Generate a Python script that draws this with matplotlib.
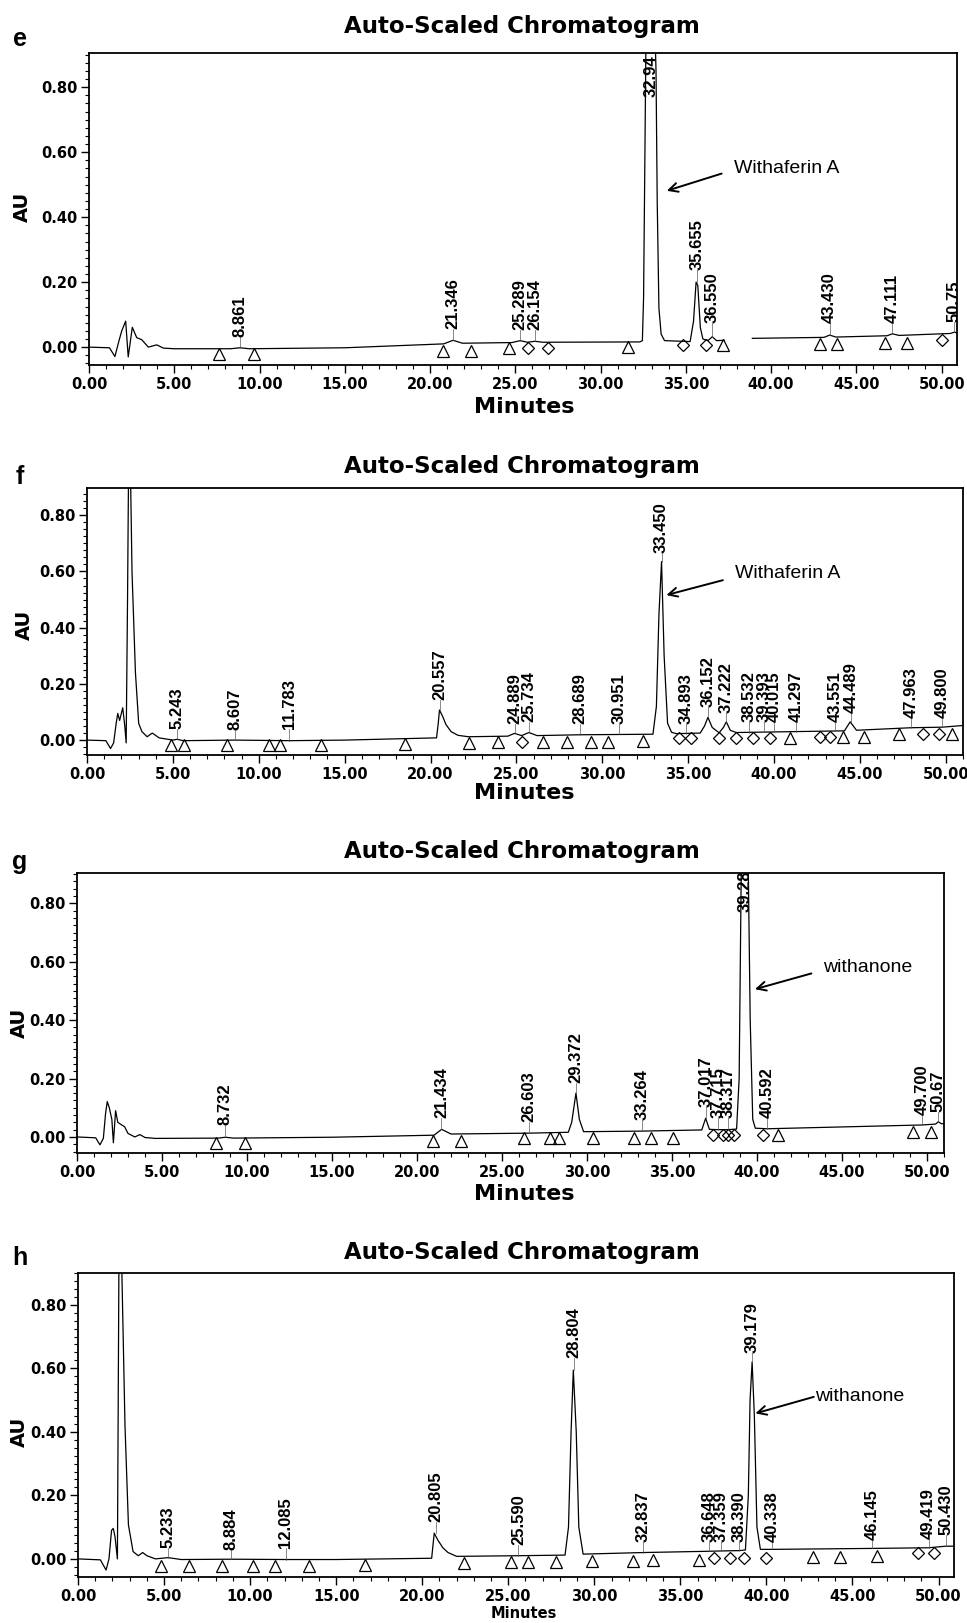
import numpy as np
import matplotlib
matplotlib.use("Agg")
import matplotlib.pyplot as plt
from matplotlib.ticker import MultipleLocator, FormatStrFormatter

nan = np.nan

# ---- panel e ----
e_trace = [(0, 0.0), (1.2, -0.002), (1.52, -0.029), (1.76, 0.02), (1.92, 0.05), (2.15, 0.08), (2.3, -0.03),
           (2.54, 0.061), (2.8, 0.029), (3.09, 0.023), (3.48, 0.0), (3.97, 0.007), (4.36, -0.003), (5.0, -0.005),
           (8.3, -0.005), (8.86, -0.002), (9.4, -0.005), (15.0, -0.002), (20.8, 0.01), (21.35, 0.021),
           (21.9, 0.012), (24.8, 0.014), (25.29, 0.02), (25.7, 0.015), (26.15, 0.018), (26.6, 0.015),
           (32.3, 0.016), (32.45, 0.02), (32.52, 0.15), (32.6, 0.6), (32.66, 0.95), (32.94, 1.3), (33.15, 1.05),
           (33.25, 0.85), (33.32, 0.45), (33.42, 0.12), (33.55, 0.04), (33.75, 0.02), (35.25, 0.017),
           (35.45, 0.08), (35.6, 0.2), (35.7, 0.19), (35.85, 0.06), (36.0, 0.025), (36.3, 0.02), (36.55, 0.032),
           (36.8, 0.02), (37.25, 0.021), (nan, nan), (38.9, 0.027), (43.1, 0.03), (43.43, 0.037), (43.8, 0.031),
           (46.8, 0.035), (47.11, 0.041), (47.5, 0.036), (50.5, 0.042), (50.75, 0.046), (50.95, 0.043)]
e_labels = ['8.861', '21.346', '25.289', '26.154', '32.94', '35.655', '36.550', '43.430', '47.111', '50.75']
e_apex = [-0.002, 0.021, 0.02, 0.018, 0.77, 0.2, 0.032, 0.037, 0.041, 0.046]
e_label_au = [0.032, 0.057, 0.052, 0.052, 0.77, 0.237, 0.073, 0.073, 0.073, 0.078]
e_tri_t = [7.62, 9.68, 20.74, 22.39, 24.65, 31.63, 37.2, 42.87, 43.89, 46.69, 47.96]
e_tri_au = [-0.022, -0.022, -0.011, -0.011, -0.004, 0.001, 0.006, 0.011, 0.011, 0.013, 0.013]
e_dia_t = [25.77, 26.94, 34.82, 36.17, 50.01]
e_dia_au = [-0.004, -0.004, 0.006, 0.006, 0.022]

# ---- panel f ----
f_trace = [(0, 0.0), (1.1, -0.002), (1.37, -0.03), (1.55, -0.01), (1.7, 0.06), (1.79, 0.095), (1.9, 0.07),
           (2.08, 0.115), (2.2, 0.05), (2.28, -0.01), (2.36, 0.5), (2.45, 1.2), (2.52, 1.0), (2.62, 0.6),
           (2.82, 0.24), (3.01, 0.059), (3.2, 0.03), (3.5, 0.012), (3.8, 0.025), (4.2, 0.008), (5.0, 0.0),
           (5.24, 0.003), (5.6, -0.002), (8.6, 0.0), (11.8, -0.002), (15.0, 0.0), (20.35, 0.008), (20.45, 0.06),
           (20.52, 0.107), (20.7, 0.085), (20.9, 0.055), (21.2, 0.03), (21.6, 0.017), (22.2, 0.012),
           (24.5, 0.014), (24.89, 0.024), (25.3, 0.016), (25.73, 0.027), (26.2, 0.016), (28.69, 0.019),
           (30.95, 0.02), (32.95, 0.021), (33.15, 0.12), (33.3, 0.45), (33.45, 0.635), (33.6, 0.3), (33.8, 0.06),
           (34.03, 0.028), (34.3, 0.023), (35.7, 0.025), (35.95, 0.05), (36.15, 0.081), (36.4, 0.045),
           (36.8, 0.026), (37.05, 0.045), (37.22, 0.065), (37.45, 0.035), (37.8, 0.027), (44.1, 0.033),
           (44.43, 0.065), (44.8, 0.035), (47.96, 0.044), (49.8, 0.046), (51.0, 0.052)]
f_labels = ['5.243', '8.607', '11.783', '20.557', '24.889', '25.734', '28.689', '30.951', '33.450', '34.893',
            '36.152', '37.222', '38.532', '39.393', '40.015', '41.297', '43.551', '44.489', '47.963', '49.800']
f_apex = [0.003, 0.0, -0.002, 0.107, 0.024, 0.027, 0.019, 0.02, 0.635, 0.023, 0.081, 0.065, 0.027, 0.028,
          0.029, 0.03, 0.032, 0.065, 0.044, 0.046]
f_label_au = [0.041, 0.036, 0.041, 0.142, 0.059, 0.063, 0.059, 0.059, 0.664, 0.059, 0.119, 0.095, 0.065, 0.065,
              0.065, 0.065, 0.065, 0.097, 0.077, 0.08]
f_tri_t = [4.9, 5.65, 8.15, 10.57, 11.21, 13.62, 18.52, 22.26, 23.94, 26.56, 27.95, 29.33, 30.33, 32.37, 40.94,
           44.0, 45.26, 47.26, 50.36]
f_tri_au = [-0.018, -0.018, -0.018, -0.018, -0.018, -0.017, -0.014, -0.01, -0.006, -0.006, -0.006, -0.005,
            -0.005, -0.004, 0.008, 0.012, 0.012, 0.02, 0.022]
f_dia_t = [25.3, 34.45, 35.18, 36.77, 37.8, 38.77, 39.74, 42.69, 43.23, 48.69, 49.58]
f_dia_au = [-0.006, 0.006, 0.006, 0.007, 0.008, 0.008, 0.009, 0.011, 0.011, 0.02, 0.021]

# ---- panel g ----
g_trace = [(0, 0.0), (1.1, -0.003), (1.35, -0.027), (1.55, -0.005), (1.68, 0.08), (1.78, 0.121), (1.9, 0.1),
           (2.05, 0.06), (2.14, -0.02), (2.27, 0.09), (2.4, 0.05), (2.63, 0.041), (2.8, 0.035), (3.0, 0.012),
           (3.4, 0.0), (3.7, 0.008), (4.0, -0.002), (4.6, -0.005), (8.3, -0.004), (8.73, -0.001), (9.2, -0.004),
           (15.0, -0.001), (21.0, 0.006), (21.45, 0.026), (22.0, 0.01), (26.6, 0.013), (28.9, 0.016),
           (29.1, 0.05), (29.35, 0.15), (29.55, 0.06), (29.8, 0.018), (33.26, 0.02), (36.75, 0.024),
           (36.98, 0.064), (37.2, 0.026), (37.7, 0.025), (38.3, 0.025), (38.8, 0.027), (38.95, 0.2),
           (39.08, 0.95), (39.28, 1.3), (39.48, 0.95), (39.6, 0.4), (39.75, 0.06), (39.9, 0.03), (40.6, 0.028),
           (49.7, 0.041), (50.5, 0.044), (50.67, 0.052), (50.85, 0.045), (51.0, 0.046)]
g_labels = ['8.732', '21.434', '26.603', '29.372', '33.264', '37.017', '37.715', '38.317', '39.28', '40.592',
            '49.700', '50.67']
g_apex = [-0.001, 0.026, 0.013, 0.15, 0.02, 0.064, 0.025, 0.025, 0.77, 0.028, 0.041, 0.052]
g_label_au = [0.041, 0.064, 0.052, 0.184, 0.058, 0.104, 0.064, 0.064, 0.77, 0.064, 0.075, 0.087]
g_tri_t = [8.18, 9.88, 20.96, 22.57, 26.32, 27.82, 28.35, 30.33, 32.76, 33.75, 35.04, 41.25, 49.19, 50.22]
g_tri_au = [-0.022, -0.022, -0.015, -0.013, -0.005, -0.005, -0.005, -0.004, -0.003, -0.003, -0.002, 0.007,
            0.018, 0.018]
g_dia_t = [37.43, 37.98, 38.31, 38.65, 40.34]
g_dia_au = [0.007, 0.007, 0.007, 0.007, 0.007]

# ---- panel h ----
h_trace = [(0, 0.0), (1.3, -0.003), (1.63, -0.035), (1.8, 0.0), (1.95, 0.09), (2.05, 0.096), (2.15, 0.07),
           (2.29, 0.0), (2.38, 0.95), (2.45, 1.3), (2.55, 0.9), (2.73, 0.42), (2.93, 0.107), (3.2, 0.023),
           (3.5, 0.01), (3.76, 0.02), (4.0, 0.01), (4.5, 0.0), (5.23, 0.004), (6.0, -0.002), (8.9, -0.001),
           (12.1, -0.002), (15.0, -0.002), (20.55, 0.002), (20.62, 0.04), (20.7, 0.081), (20.9, 0.06),
           (21.2, 0.035), (21.5, 0.02), (22.0, 0.008), (25.59, 0.01), (28.3, 0.012), (28.5, 0.1), (28.65, 0.4),
           (28.78, 0.594), (28.95, 0.4), (29.1, 0.1), (29.35, 0.015), (32.84, 0.02), (36.65, 0.024),
           (37.36, 0.025), (38.39, 0.026), (38.78, 0.028), (38.95, 0.2), (39.05, 0.5), (39.17, 0.62),
           (39.3, 0.45), (39.45, 0.1), (39.65, 0.03), (40.34, 0.03), (46.15, 0.033), (49.42, 0.035),
           (50.43, 0.04), (51.0, 0.04)]
h_labels = ['5.233', '8.884', '12.085', '20.805', '25.590', '28.804', '32.837', '36.648', '37.359', '38.390',
            '39.179', '40.338', '46.145', '49.419', '50.430']
h_apex = [0.004, -0.001, -0.002, 0.081, 0.01, 0.594, 0.02, 0.024, 0.025, 0.026, 0.62, 0.03, 0.033, 0.035, 0.04]
h_label_au = [0.034, 0.029, 0.034, 0.117, 0.044, 0.631, 0.054, 0.054, 0.054, 0.054, 0.647, 0.054, 0.06, 0.064,
              0.075]
h_tri_t = [4.81, 6.47, 8.39, 10.16, 11.45, 13.43, 16.65, 22.4, 25.16, 26.14, 27.79, 29.86, 32.25, 33.39, 36.1,
           42.71, 44.26, 46.44]
h_tri_au = [-0.021, -0.021, -0.021, -0.021, -0.021, -0.021, -0.018, -0.014, -0.01, -0.01, -0.009, -0.008,
            -0.006, -0.005, -0.002, 0.005, 0.006, 0.008]
h_dia_t = [36.94, 37.91, 38.68, 40.0, 48.8, 49.73]
h_dia_au = [0.002, 0.002, 0.002, 0.003, 0.017, 0.018]

# compound arrows: name, text pos, arrow tail, arrow head
e_note = ('Withaferin A', (37.8, 0.55), (37.1, 0.534), (33.88, 0.481))
f_note = ('Withaferin A', (37.7, 0.594), (37.02, 0.569), (33.73, 0.516))
g_note = ('withanone', (43.9, 0.582), (43.2, 0.56), (39.88, 0.506))
h_note = ('withanone', (42.8, 0.51), (42.75, 0.51), (39.36, 0.458))

W, H = 967, 1623
fig = plt.figure(figsize=(W / 100, H / 100), dpi=100)


def fx(x):
    return x / W


def fy(y):
    return 1 - y / H


label_font = ['Liberation Sans Narrow', 'Liberation Sans']

# letter, box (l, t, r, b px), xlim, ylim, data..., title y, letter y, AU pos, Minutes y, Minutes size
panels = [
    ('e', (89, 53, 957, 365), 50.9, (-0.055, 0.905), e_trace, e_labels, e_apex, e_label_au,
     e_tri_t, e_tri_au, e_dia_t, e_dia_au, e_note, 26, 39, (22, 207), 407, 16),
    ('f', (87, 488, 963, 755), 51.0, (-0.053, 0.897), f_trace, f_labels, f_apex, f_label_au,
     f_tri_t, f_tri_au, f_dia_t, f_dia_au, f_note, 466, 477, (24, 625), 793, 16),
    ('g', (77, 873, 944, 1153), 51.0, (-0.055, 0.904), g_trace, g_labels, g_apex, g_label_au,
     g_tri_t, g_tri_au, g_dia_t, g_dia_au, g_note, 851, 862, (19, 1023), 1194, 16),
    ('h', (78, 1273, 954, 1577), 50.9, (-0.057, 0.90), h_trace, h_labels, h_apex, h_label_au,
     h_tri_t, h_tri_au, h_dia_t, h_dia_au, h_note, 1253, 1258, (19, 1432), 1613, 10.5),
]

for (letter, (l, t, r, b), xmax, ylim, trace, labels, apex, lab_au, tri_t, tri_au, dia_t, dia_au,
     note, title_y, letter_y, au_pos, min_y, min_size) in panels:
    ax = fig.add_axes([fx(l), fy(b), fx(r - l), (b - t) / H])
    tt, aa = zip(*trace)
    ax.plot(tt, aa, color='black', lw=0.9)
    ax.plot(tri_t, tri_au, ls='none', marker='^', ms=8.5, mfc='none', mec='black', mew=0.9)
    ax.plot(dia_t, dia_au, ls='none', marker='D', ms=6.5, mfc='none', mec='black', mew=0.9)

    for lab, ap, lb in zip(labels, apex, lab_au):
        x = float(lab)
        if lb > ap:
            ax.plot([x, x], [ap, lb], color='0.35', lw=0.5)
        ax.text(x, lb, lab, rotation=90, ha='center', va='bottom', fontsize=12,
                family=label_font, fontweight='bold', clip_on=True)

    name, tpos, tail, head = note
    ax.text(tpos[0], tpos[1], name, ha='left', va='center', fontsize=14, family='Liberation Sans')
    ax.annotate('', xy=head, xytext=tail,
                arrowprops=dict(arrowstyle='->', color='black', lw=1.4, mutation_scale=16,
                                shrinkA=0, shrinkB=0))

    ax.set_xlim(0, xmax)
    ax.set_ylim(*ylim)
    ax.xaxis.set_major_locator(MultipleLocator(5))
    ax.xaxis.set_minor_locator(MultipleLocator(1))
    ax.yaxis.set_major_locator(MultipleLocator(0.2))
    ax.yaxis.set_minor_locator(MultipleLocator(0.025))
    ax.xaxis.set_major_formatter(FormatStrFormatter('%.2f'))
    ax.yaxis.set_major_formatter(FormatStrFormatter('%.2f'))
    ax.tick_params(which='major', direction='out', length=6, width=1.0, labelsize=10.5, pad=2.5)
    ax.tick_params(which='minor', direction='out', length=3, width=0.8)
    for lbl in ax.get_xticklabels() + ax.get_yticklabels():
        lbl.set_fontweight('bold')
    for sp in ax.spines.values():
        sp.set_linewidth(1.3)

    fig.text(fx(522), fy(title_y), 'Auto-Scaled Chromatogram', ha='center', va='center',
             fontsize=16.5, fontweight='bold')
    fig.text(fx(20), fy(letter_y), letter, ha='center', va='center', fontsize=18,
             fontweight='bold', family='Liberation Sans')
    fig.text(fx(au_pos[0]), fy(au_pos[1]), 'AU', rotation=90, ha='center', va='center',
             fontsize=14, fontweight='bold')
    fig.text(fx(524), fy(min_y), 'Minutes', ha='center', va='center', fontsize=min_size,
             fontweight='bold')

fig.savefig('out.png', dpi=100)
